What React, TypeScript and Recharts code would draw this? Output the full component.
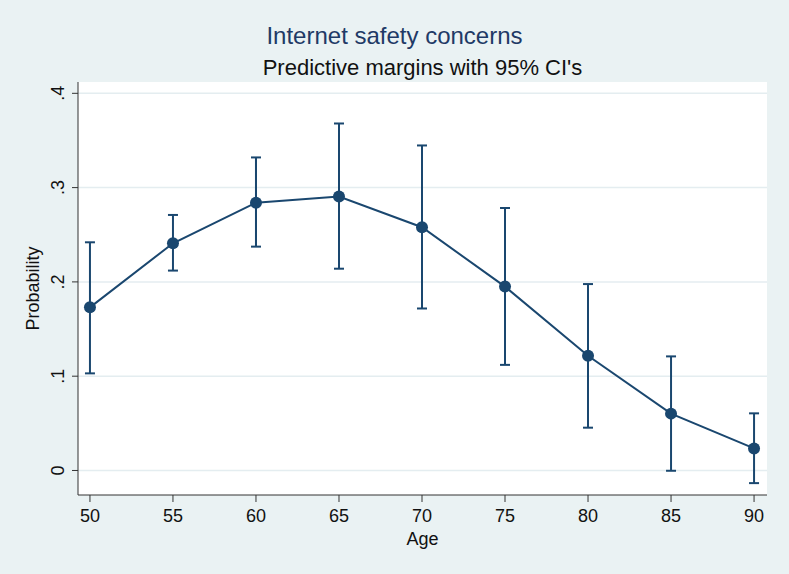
import { ComposedChart, Line, XAxis, YAxis, CartesianGrid, ErrorBar } from "recharts";

// predictive margins by age, with 95% CI bounds
const ages = [50, 55, 60, 65, 70, 75, 80, 85, 90];
const margin = [0.173, 0.241, 0.284, 0.2905, 0.258, 0.195, 0.1216, 0.0603, 0.0234];
const ciLow = [0.103, 0.212, 0.2374, 0.214, 0.1718, 0.112, 0.0454, -0.0003, -0.0134];
const ciHigh = [0.242, 0.271, 0.332, 0.368, 0.3447, 0.2784, 0.1977, 0.121, 0.0606];
const yTicks = [0, 0.1, 0.2, 0.3, 0.4];
const xTicks = [50, 55, 60, 65, 70, 75, 80, 85, 90];

const data = ages.map((a, i) => ({
  age: a,
  p: margin[i],
  err: [margin[i] - ciLow[i], ciHigh[i] - margin[i]],
}));

const navy = "#1a476f";
const font = "'Liberation Sans', Arial, sans-serif";

const fmtY = (v: number) => (v === 0 ? "0" : String(v).replace(/^0/, ""));

const YTick = ({ x, y, payload }: any) => {
  const bx = x - 6;
  return (
    <text
      x={bx}
      y={y}
      transform={`rotate(-90 ${bx} ${y})`}
      textAnchor="middle"
      fontSize={18}
      fontFamily={font}
      fill="#111"
    >
      {fmtY(payload.value)}
    </text>
  );
};

const XTick = ({ x, y, payload }: any) => (
  <text x={x} y={y + 18} textAnchor="middle" fontSize={18} fontFamily={font} fill="#111">
    {payload.value}
  </text>
);

const AgeLabel = ({ viewBox }: any) => (
  <text
    x={viewBox.x + viewBox.width / 2}
    y={viewBox.y + 50}
    textAnchor="middle"
    fontSize={18}
    fontFamily={font}
    fill="#111"
  >
    Age
  </text>
);

const ProbLabel = ({ viewBox }: any) => {
  const cy = viewBox.y + viewBox.height / 2;
  return (
    <text
      x={39}
      y={cy}
      transform={`rotate(-90 39 ${cy})`}
      textAnchor="middle"
      fontSize={18}
      fontFamily={font}
      fill="#111"
    >
      Probability
    </text>
  );
};

export default function App() {
  return (
    <div
      style={{
        position: "absolute",
        left: 0,
        top: 0,
        width: 789,
        height: 574,
        background: "#eaf2f3",
        fontFamily: font,
      }}
    >
      <div
        style={{
          position: "absolute",
          top: 22,
          left: 0,
          width: 789,
          textAlign: "center",
          fontSize: 24,
          lineHeight: "27px",
          color: "#1f3a66",
          whiteSpace: "nowrap",
        }}
      >
        Internet safety concerns
      </div>
      <div
        style={{
          position: "absolute",
          top: 55,
          left: 78,
          width: 689,
          textAlign: "center",
          fontSize: 22,
          lineHeight: "25px",
          color: "#111",
          whiteSpace: "nowrap",
        }}
      >
        Predictive margins with 95% CI's
      </div>
      <div style={{ position: "absolute", left: 0, top: 0 }}>
        <ComposedChart
          width={789}
          height={574}
          data={data}
          margin={{ top: 82, right: 22, bottom: 0, left: 0 }}
        >
          <CartesianGrid
            vertical={false}
            horizontalValues={yTicks}
            stroke="#e4edf0"
            strokeWidth={1.5}
            fill="#ffffff"
          />
          <XAxis
            dataKey="age"
            type="number"
            domain={[49.28, 90.78]}
            ticks={xTicks}
            height={79}
            tickSize={7}
            stroke="#333"
            tick={<XTick />}
            label={<AgeLabel />}
          />
          <YAxis
            type="number"
            domain={[-0.026, 0.412]}
            ticks={yTicks}
            width={78}
            tickSize={6}
            stroke="#333"
            tick={<YTick />}
            label={<ProbLabel />}
          />
          <Line
            dataKey="p"
            stroke={navy}
            strokeWidth={2}
            dot={{ r: 6, fill: navy, stroke: navy, strokeWidth: 0 }}
            isAnimationActive={false}
          >
            <ErrorBar dataKey="err" direction="y" width={5} stroke={navy} strokeWidth={2} />
          </Line>
        </ComposedChart>
      </div>
    </div>
  );
}
